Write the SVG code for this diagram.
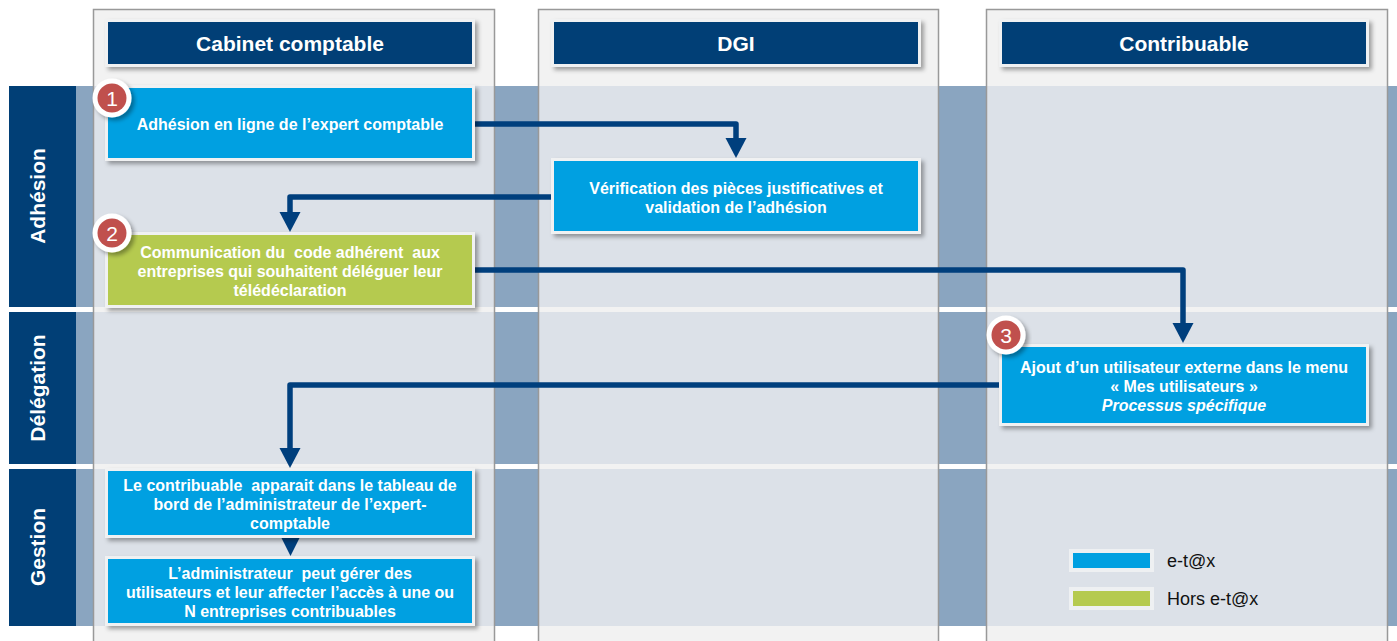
<svg xmlns="http://www.w3.org/2000/svg" width="1397" height="641" viewBox="0 0 1397 641">
<defs>
<filter id="sh" x="-10%" y="-20%" width="125%" height="150%">
<feDropShadow dx="3" dy="3" stdDeviation="2" flood-color="#000" flood-opacity="0.35"/>
</filter>
<style>
.band{fill:#8AA5C0}
.lband{fill:#DCE1E8}
.col{fill:#F2F2F2}
.colb{fill:none;stroke:#999;stroke-width:1.5}
.rowlab{fill:#013F76}
.rowt{font-family:"Liberation Sans",Arial,sans-serif;font-weight:bold;font-size:21px;fill:#fff;text-anchor:middle}
.frame{fill:#F0F1F2;filter:url(#sh)}
.hdr{fill:#013F76}
.hdrt{font-family:"Liberation Sans",Arial,sans-serif;font-weight:bold;font-size:21px;fill:#fff;text-anchor:middle}
.blue{fill:#00A0E1}
.green{fill:#B5CA4F}
.nt{font-family:"Liberation Sans",Arial,sans-serif;font-weight:bold;font-size:16px;fill:#fff;text-anchor:middle;white-space:pre}
.conn{fill:none;stroke:#003F7D;stroke-width:5.5;stroke-linejoin:round}
.ah{fill:#003F7D}
.cw{fill:#fff;filter:url(#sh)}
.cr{fill:#C0504D}
.ct{font-family:"Liberation Sans",Arial,sans-serif;font-size:21px;fill:#fff;text-anchor:middle}
.lt{font-family:"Liberation Sans",Arial,sans-serif;font-size:18px;fill:#111}
</style>
</defs>
<rect width="1397" height="641" fill="#fff"/>
<g id="lanes">
<rect class="band" x="76" y="86" width="1321" height="221"/>
<rect class="band" x="76" y="312" width="1321" height="152"/>
<rect class="band" x="76" y="469" width="1321" height="157"/>
<rect class="col" x="93.5" y="9.5" width="401" height="640"/>
<rect class="col" x="538.5" y="9.5" width="400" height="640"/>
<rect class="col" x="986.5" y="9.5" width="401" height="640"/>
<rect class="lband" x="94" y="86" width="400" height="221"/>
<rect class="lband" x="94" y="312" width="400" height="152"/>
<rect class="lband" x="94" y="469" width="400" height="157"/>
<rect class="lband" x="539" y="86" width="399" height="221"/>
<rect class="lband" x="539" y="312" width="399" height="152"/>
<rect class="lband" x="539" y="469" width="399" height="157"/>
<rect class="lband" x="987" y="86" width="400" height="221"/>
<rect class="lband" x="987" y="312" width="400" height="152"/>
<rect class="lband" x="987" y="469" width="400" height="157"/>
<rect class="colb" x="93.5" y="9.5" width="401" height="640"/>
<rect class="colb" x="538.5" y="9.5" width="400" height="640"/>
<rect class="colb" x="986.5" y="9.5" width="401" height="640"/>
</g>
<g id="row-adhesion">
<rect class="rowlab" x="9" y="86" width="67" height="221"/>
<text class="rowt" transform="translate(44.5,196) rotate(-90)">Adhésion</text>
</g>
<g id="row-delegation">
<rect class="rowlab" x="9" y="312" width="67" height="152"/>
<text class="rowt" transform="translate(44.5,388) rotate(-90)">Délégation</text>
</g>
<g id="row-gestion">
<rect class="rowlab" x="9" y="469" width="67" height="157"/>
<text class="rowt" transform="translate(44.5,547) rotate(-90)">Gestion</text>
</g>
<g id="hdr-cabinet">
<rect class="frame" x="105" y="19" width="370" height="48"/>
<rect class="hdr" x="108" y="22" width="364" height="42"/>
<text class="hdrt" x="290" y="50.5">Cabinet comptable</text>
</g>
<g id="hdr-dgi">
<rect class="frame" x="551" y="19" width="370" height="48"/>
<rect class="hdr" x="554" y="22" width="364" height="42"/>
<text class="hdrt" x="736" y="50.5">DGI</text>
</g>
<g id="hdr-contribuable">
<rect class="frame" x="999" y="19" width="370" height="48"/>
<rect class="hdr" x="1002" y="22" width="364" height="42"/>
<text class="hdrt" x="1184" y="50.5">Contribuable</text>
</g>
<g id="connectors">
<path class="conn" d="M474 124 H736 V140"/>
<polygon class="ah" points="725.5,138 746.5,138 736,158"/>
<path class="conn" d="M553 197 H290 V214"/>
<polygon class="ah" points="279.5,212 300.5,212 290,232"/>
<path class="conn" d="M474 270 H1183 V325"/>
<polygon class="ah" points="1172.5,323 1193.5,323 1183,343"/>
<path class="conn" d="M1001 385 H290 V450"/>
<polygon class="ah" points="279.5,448 300.5,448 290,468"/>
<polygon class="ah" points="280,535 301,535 290.5,556"/>
</g>
<g id="n1">
<rect class="frame" x="105" y="85" width="370" height="76"/>
<rect class="blue" x="108" y="88" width="364" height="70"/>
<text class="nt" x="290" y="129.5">Adhésion en ligne de l’expert comptable</text>
</g>
<g id="n-dgi">
<rect class="frame" x="551" y="158" width="370" height="76"/>
<rect class="blue" x="554" y="161" width="364" height="70"/>
<text class="nt" x="736" y="193.5">Vérification des pièces justificatives et</text>
<text class="nt" x="736" y="212.5">validation de l’adhésion</text>
</g>
<g id="n2">
<rect class="frame" x="105" y="232" width="370" height="76"/>
<rect class="green" x="108" y="235" width="364" height="70"/>
<text class="nt" x="290" y="257.5">Communication du  code adhérent  aux</text>
<text class="nt" x="290" y="276.5">entreprises qui souhaitent déléguer leur</text>
<text class="nt" x="290" y="295.5">télédéclaration</text>
</g>
<g id="n3">
<rect class="frame" x="999" y="344" width="370" height="82"/>
<rect class="blue" x="1002" y="347" width="364" height="76"/>
<text class="nt" x="1184" y="372.5">Ajout d’un utilisateur externe dans le menu</text>
<text class="nt" x="1184" y="391.5">« Mes utilisateurs »</text>
<text class="nt" x="1184" y="410.5" font-style="italic">Processus spécifique</text>
</g>
<g id="n4">
<rect class="frame" x="105" y="468" width="370" height="70"/>
<rect class="blue" x="108" y="471" width="364" height="64"/>
<text class="nt" x="290" y="490.5">Le contribuable  apparait dans le tableau de</text>
<text class="nt" x="290" y="509.5">bord de l’administrateur de l’expert-</text>
<text class="nt" x="290" y="528.5">comptable</text>
</g>
<g id="n5">
<rect class="frame" x="105" y="556" width="370" height="70"/>
<rect class="blue" x="108" y="559" width="364" height="64"/>
<text class="nt" x="290" y="578.5">L’administrateur  peut gérer des</text>
<text class="nt" x="290" y="597.5">utilisateurs et leur affecter l’accès à une ou</text>
<text class="nt" x="290" y="617">N entreprises contribuables</text>
</g>
<g id="badge1">
<circle class="cw" cx="112" cy="98" r="19.5"/>
<circle class="cr" cx="112" cy="98" r="14.5"/>
<text class="ct" x="112" y="105.5">1</text>
</g>
<g id="badge2">
<circle class="cw" cx="112" cy="233" r="19.5"/>
<circle class="cr" cx="112" cy="233" r="14.5"/>
<text class="ct" x="112" y="240.5">2</text>
</g>
<g id="badge3">
<circle class="cw" cx="1006" cy="335" r="19.5"/>
<circle class="cr" cx="1006" cy="335" r="14.5"/>
<text class="ct" x="1006" y="342.5">3</text>
</g>
<g id="legend">
<rect x="1069" y="549" width="85" height="23" fill="#EEF0F2"/>
<rect class="blue" x="1073" y="553" width="77" height="15"/>
<text class="lt" x="1167" y="567">e-t@x</text>
<rect x="1069" y="587" width="85" height="23" fill="#EEF0F2"/>
<rect class="green" x="1073" y="591" width="77" height="15"/>
<text class="lt" x="1167" y="605">Hors e-t@x</text>
</g>
</svg>
